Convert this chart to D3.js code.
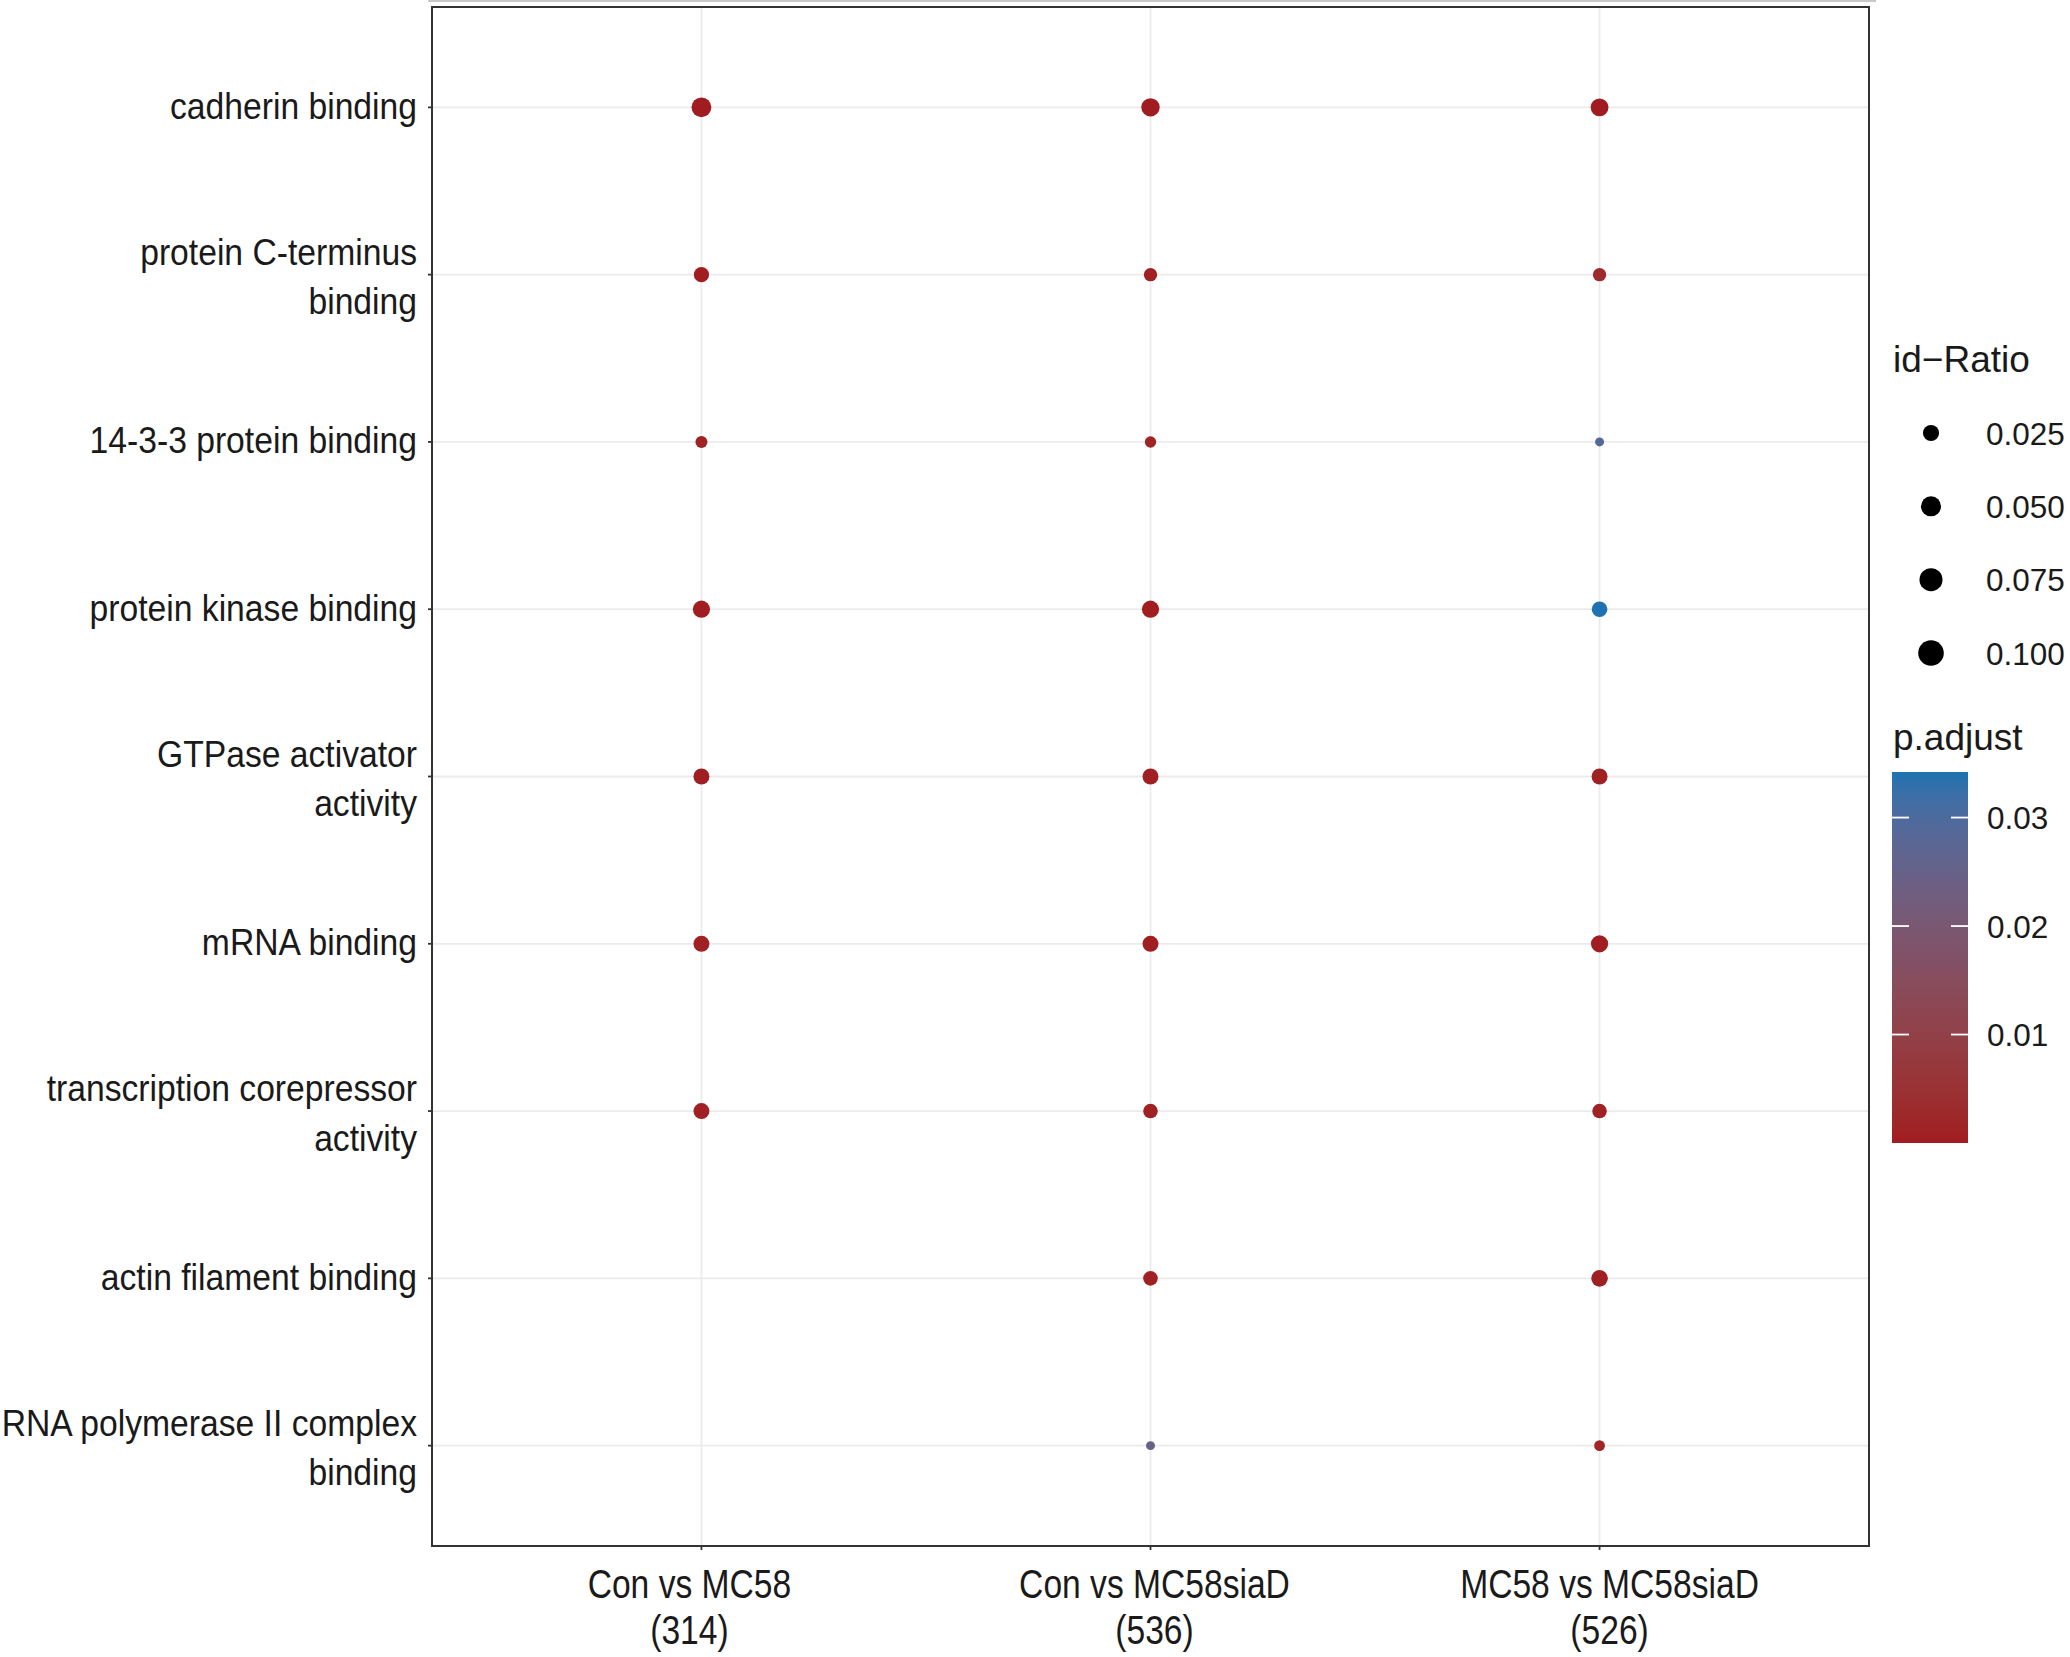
<!DOCTYPE html>
<html>
<head>
<meta charset="utf-8">
<script src="https://cdn.jsdelivr.net/npm/d3@7"></script>
<style>
  html, body { margin: 0; padding: 0; background: #fff; }
  svg { display: block; font-family: "Liberation Sans", Arial, sans-serif; }
</style>
</head>
<body>
<svg id="chart" width="2070" height="1657"></svg>
<script>
// ---------------- data ----------------
const terms = [
  "cadherin binding",
  "protein C-terminus binding",
  "14-3-3 protein binding",
  "protein kinase binding",
  "GTPase activator activity",
  "mRNA binding",
  "transcription corepressor activity",
  "actin filament binding",
  "RNA polymerase II complex binding"
];
const termLabels = [
  ["cadherin binding"],
  ["protein C-terminus", "binding"],
  ["14-3-3 protein binding"],
  ["protein kinase binding"],
  ["GTPase activator", "activity"],
  ["mRNA binding"],
  ["transcription corepressor", "activity"],
  ["actin filament binding"],
  ["RNA polymerase II complex", "binding"]
];
const groups = ["Con vs MC58", "Con vs MC58siaD", "MC58 vs MC58siaD"];
const groupCounts = ["(314)", "(536)", "(526)"];

// id-Ratio per term (null = term not enriched in that comparison)
const ratioConMC58     = [0.0607, 0.0288, 0.0136, 0.0412, 0.0335, 0.0335, 0.0335, null, null];
const ratioConMC58siaD = [0.0497, 0.0195, 0.0113, 0.0412, 0.0335, 0.0335, 0.0255, 0.0255, 0.0044];
const ratioMC58MC58siaD= [0.0454, 0.0195, 0.0044, 0.0311, 0.0335, 0.0412, 0.0255, 0.0373, 0.0093];

// p.adjust per term
const padjConMC58      = [0.000001, 0.0004, 0.0012, 0.0002, 0.0006, 0.0007, 0.0008, null, null];
const padjConMC58siaD  = [0.00001, 0.0008, 0.0015, 0.0001, 0.0005, 0.0004, 0.0010, 0.0009, 0.0245];
const padjMC58MC58siaD = [0.00002, 0.0030, 0.0285, 0.0342, 0.0009, 0.0001, 0.0012, 0.0005, 0.0018];

const sizeBreaks = [0.025, 0.050, 0.075, 0.100];
const sizeBreakLabels = ["0.025", "0.050", "0.075", "0.100"];
const colorBreaks = [0.01, 0.02, 0.03];
const colorBreakLabels = ["0.01", "0.02", "0.03"];

const ratios = [ratioConMC58, ratioConMC58siaD, ratioMC58MC58siaD];
const padjs = [padjConMC58, padjConMC58siaD, padjMC58MC58siaD];

// build long table
const points = [];
groups.forEach((g, gi) => {
  terms.forEach((t, ti) => {
    if (ratios[gi][ti] != null) {
      points.push({ group: g, term: t, ratio: ratios[gi][ti], padj: padjs[gi][ti] });
    }
  });
});

// ---------------- layout ----------------
const svg = d3.select("#chart");
const panel = { left: 432, top: 7, right: 1869, bottom: 1546 };
const xLabelNudge = [-12, 4, 10];

const x = d3.scalePoint().domain(groups).range([panel.left, panel.right]).padding(0.6);
const y = d3.scalePoint().domain(terms).range([panel.top, panel.bottom]).padding(0.6);
const r = d3.scaleSqrt().domain([0, 0.1]).range([2.5, 12]);
const pExtent = d3.extent(points, d => d.padj);
const color = d3.scaleLinear().domain(pExtent).range(["#a11c20", "#1f72b1"]).interpolate(d3.interpolateLab);

const textColor = "#1a1a1a";

// faint line at very top
svg.append("line").attr("x1", 428).attr("x2", 1876).attr("y1", 1).attr("y2", 1)
  .attr("stroke", "#c8c8c8").attr("stroke-width", 2);

// panel background
svg.append("rect").attr("x", panel.left).attr("y", panel.top)
  .attr("width", panel.right - panel.left).attr("height", panel.bottom - panel.top)
  .attr("fill", "#fff");

// gridlines
const grid = svg.append("g");
grid.selectAll("line.h").data(terms).join("line").attr("class", "h")
  .attr("x1", panel.left).attr("x2", panel.right)
  .attr("y1", d => y(d)).attr("y2", d => y(d))
  .attr("stroke", "#ebebeb").attr("stroke-width", 1.8);
grid.selectAll("line.v").data(groups).join("line").attr("class", "v")
  .attr("y1", panel.top).attr("y2", panel.bottom)
  .attr("x1", d => x(d)).attr("x2", d => x(d))
  .attr("stroke", "#ebebeb").attr("stroke-width", 1.8);

// points
svg.append("g").selectAll("circle").data(points).join("circle")
  .attr("cx", d => x(d.group)).attr("cy", d => y(d.term))
  .attr("r", d => r(d.ratio)).attr("fill", d => color(d.padj));

// panel border
svg.append("rect").attr("x", panel.left).attr("y", panel.top)
  .attr("width", panel.right - panel.left).attr("height", panel.bottom - panel.top)
  .attr("fill", "none").attr("stroke", "#333").attr("stroke-width", 2);

// axis ticks
svg.append("g").selectAll("line").data(terms).join("line")
  .attr("x1", panel.left - 4).attr("x2", panel.left)
  .attr("y1", d => y(d)).attr("y2", d => y(d))
  .attr("stroke", "#333").attr("stroke-width", 1.8);
svg.append("g").selectAll("line").data(groups).join("line")
  .attr("y1", panel.bottom).attr("y2", panel.bottom + 4)
  .attr("x1", d => x(d)).attr("x2", d => x(d))
  .attr("stroke", "#333").attr("stroke-width", 1.8);

// y labels
const yLab = svg.append("g").selectAll("text").data(terms).join("text")
  .attr("transform", (d, i) => {
    const n = termLabels[i].length;
    const base = n === 1 ? y(d) + 11.5 : y(d) - 10;
    return `translate(417,${base}) scale(0.91,1)`;
  })
  .attr("text-anchor", "end").attr("font-size", 37).attr("fill", textColor);
yLab.each(function(d, i) {
  d3.select(this).selectAll("tspan").data(termLabels[i]).join("tspan")
    .attr("x", 0).attr("dy", (t, j) => j === 0 ? 0 : 49.5).text(t => t);
});

// x labels
const xLab = svg.append("g").selectAll("text").data(groups).join("text")
  .attr("transform", (d, i) => `translate(${x(d) + xLabelNudge[i]},1598) scale(0.83,1)`)
  .attr("text-anchor", "middle").attr("font-size", 40.5).attr("fill", textColor);
xLab.each(function(d, i) {
  d3.select(this).selectAll("tspan").data([d, groupCounts[i]]).join("tspan")
    .attr("x", 0).attr("dy", (t, j) => j === 0 ? 0 : 46).text(t => t);
});

// ---------------- legends ----------------
const legX = 1893;
svg.append("text").attr("x", legX).attr("y", 372).attr("font-size", 37)
  .attr("fill", textColor).text("id\u2212Ratio");

const sizeY = d3.scalePoint().domain(sizeBreaks).range([433, 653]);
const sl = svg.append("g");
sl.selectAll("circle").data(sizeBreaks).join("circle")
  .attr("cx", 1931).attr("cy", d => sizeY(d)).attr("r", d => r(d) + 0.8).attr("fill", "#000");
sl.selectAll("text").data(sizeBreaks).join("text")
  .attr("x", 1986).attr("y", d => sizeY(d) + 11.5)
  .attr("font-size", 31.5).attr("fill", textColor)
  .text((d, i) => sizeBreakLabels[i]);

svg.append("text").attr("x", legX).attr("y", 750).attr("font-size", 37)
  .attr("fill", textColor).text("p.adjust");

const cb = { x: 1892, w: 76, top: 772, bottom: 1143 };
const cbScale = d3.scaleLinear().domain(pExtent).range([cb.bottom, cb.top]);
const defs = svg.append("defs");
const grad = defs.append("linearGradient").attr("id", "pgrad")
  .attr("x1", 0).attr("y1", 1).attr("x2", 0).attr("y2", 0);
d3.range(0, 1.0001, 0.05).forEach(t => {
  grad.append("stop").attr("offset", t)
    .attr("stop-color", color(pExtent[0] + t * (pExtent[1] - pExtent[0])));
});
svg.append("rect").attr("x", cb.x).attr("y", cb.top).attr("width", cb.w)
  .attr("height", cb.bottom - cb.top).attr("fill", "url(#pgrad)");
const cbt = svg.append("g");
cbt.selectAll("line.l").data(colorBreaks).join("line").attr("class", "l")
  .attr("x1", cb.x).attr("x2", cb.x + 17)
  .attr("y1", d => cbScale(d)).attr("y2", d => cbScale(d))
  .attr("stroke", "#fff").attr("stroke-width", 1.8);
cbt.selectAll("line.r").data(colorBreaks).join("line").attr("class", "r")
  .attr("x1", cb.x + cb.w - 17).attr("x2", cb.x + cb.w)
  .attr("y1", d => cbScale(d)).attr("y2", d => cbScale(d))
  .attr("stroke", "#fff").attr("stroke-width", 1.8);
cbt.selectAll("text").data(colorBreaks).join("text")
  .attr("x", 1987).attr("y", d => cbScale(d) + 11.5)
  .attr("font-size", 31.5).attr("fill", textColor)
  .text((d, i) => colorBreakLabels[i]);
</script>
</body>
</html>
